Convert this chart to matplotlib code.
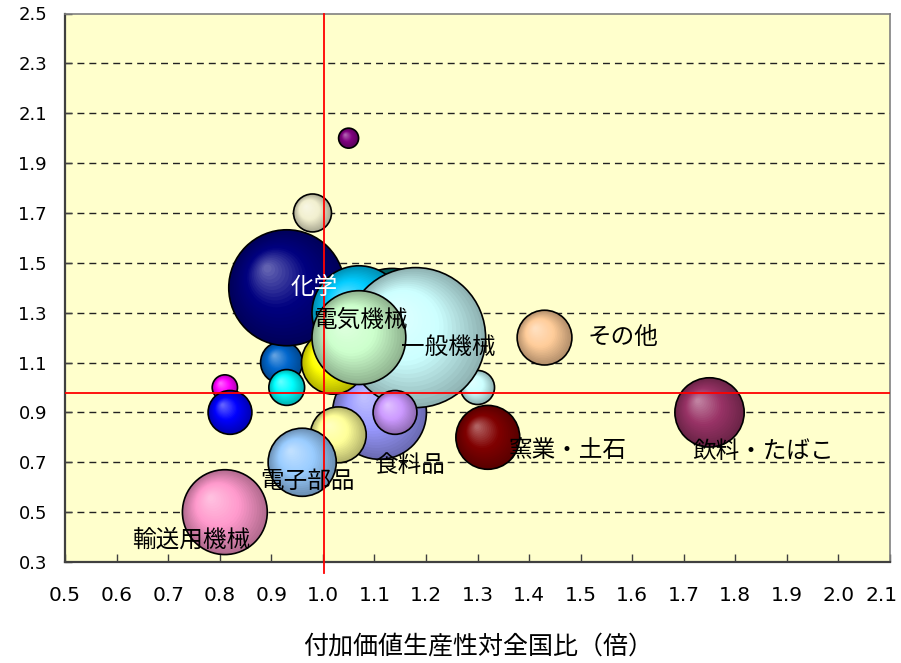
import numpy as np
import matplotlib
matplotlib.use('Agg')
import matplotlib.pyplot as plt
from matplotlib import transforms
from matplotlib import colors as mcolors

plt.rcParams['font.family'] = ['Noto Sans CJK JP', 'DejaVu Sans']

# bubble data (drawing order = order in the lists)
names = ['', '', '', '', '', '化学', '食料品', '', '', '', '電子部品', '', '窯業・土石',
         '', '', '一般機械', '', '電気機械', '輸送用機械', 'その他', '飲料・たばこ']
x_ratio = [0.81, 0.82, 1.05, 0.98, 0.92, 0.93, 1.11, 1.02, 0.93, 1.03, 0.96, 1.30, 1.32,
           1.134, 1.07, 1.18, 1.14, 1.07, 0.81, 1.43, 1.75]
y_ratio = [1.00, 0.90, 2.00, 1.70, 1.10, 1.40, 0.90, 1.10, 1.00, 0.81, 0.70, 1.00, 0.80,
           1.273, 1.30, 1.20, 0.90, 1.20, 0.50, 1.20, 0.90]
bubble_size = [1.6, 4.8, 1.0, 3.6, 4.4, 33.6, 22, 10, 3.2, 7.8, 11.6, 2.9, 10.2,
               26, 22, 49, 4.8, 22, 18, 7.5, 12]
bubble_colors = ['#FF00FF', '#0000FF', '#800080', '#F2F0D0', '#0066CC', '#000080', '#9999FF',
                 '#FFFF00', '#00FFFF', '#FFFF99', '#99CCFF', '#CCFFFF', '#800000', '#008080',
                 '#00CCFF', '#CCFFFF', '#CC99FF', '#CCFFCC', '#FF99CC', '#FFCC99', '#993366']

x_ref = 1.003   # 全国比 vertical guide
y_ref = 0.977

x_ticks = [0.5, 0.6, 0.7, 0.8, 0.9, 1.0, 1.1, 1.2, 1.3, 1.4, 1.5, 1.6, 1.7, 1.8, 1.9, 2.0, 2.1]
y_ticks = [0.3, 0.5, 0.7, 0.9, 1.1, 1.3, 1.5, 1.7, 1.9, 2.1, 2.3, 2.5]

# label offsets in pixels from the bubble centre
label_pos = {'化学': (27, 0), '電気機械': (2, 17), '一般機械': (33, -10), '食料品': (30, -53),
             '電子部品': (5, -19), '輸送用機械': (-34, -28), '窯業・土石': (80, -13),
             '飲料・たばこ': (54, -39), 'その他': (78, 0)}

DPI = 100
fig = plt.figure(figsize=(9.01, 6.63), dpi=DPI)
ax = fig.add_axes([65 / 901, 101 / 663, 825 / 901, 548.5 / 663])
ax.set_facecolor('#FFFFCC')

# dashed gridlines
for yv in y_ticks[1:-1]:
    ax.axhline(yv, color='#222222', lw=1.0, ls=(0, (5, 3.6)), zorder=1)

R_MAX = 70.0  # px radius of the biggest bubble
s_max = max(bubble_size)
N = 22
for i, (x, y, s, c) in enumerate(zip(x_ratio, y_ratio, bubble_size, bubble_colors)):
    r = R_MAX * np.sqrt(s / s_max)
    base = np.array(mcolors.to_rgb(c))
    z = 10 + i
    # fake 3D shading: stacked circles drifting to the upper left
    for k in range(N):
        t = k / (N - 1)
        if t < 0.5:
            col = base * (0.70 + 0.30 * t / 0.5)
        else:
            col = base + (1 - base) * 0.38 * (t - 0.5) / 0.5
        rk = r * (1 - 0.93 * t)
        ox, oy = -0.33 * r * t, 0.33 * r * t
        tr = transforms.offset_copy(ax.transData, fig=fig, x=ox, y=oy, units='dots')
        d_pt = 2 * rk * 72 / DPI
        ax.scatter([x], [y], s=d_pt ** 2, color=np.clip(col, 0, 1), edgecolors='none',
                   transform=tr, zorder=z)
    ax.scatter([x], [y], s=(2 * r * 72 / DPI) ** 2, facecolors='none', edgecolors='black',
               linewidths=1.2, zorder=z)

# red guides
ax.plot([x_ref, x_ref], [0.255, 2.5], color='red', lw=1.3, clip_on=False, zorder=60)
ax.plot([0.5, 2.1], [y_ref, y_ref], color='red', lw=1.3, zorder=60)

for name, x, y in zip(names, x_ratio, y_ratio):
    if not name:
        continue
    dx, dy = label_pos[name]
    ax.annotate(name, (x, y), xytext=(dx, dy), textcoords='offset pixels',
                ha='center', va='center', fontsize=17,
                color='white' if name == '化学' else 'black', zorder=70)

ax.set_xlim(0.5, 2.1)
ax.set_ylim(0.3, 2.5)
ax.set_xticks(x_ticks)
ax.set_xticklabels(['%.1f' % v for v in x_ticks], fontsize=14.5, family='DejaVu Sans')
ax.set_yticks(y_ticks)
ax.set_yticklabels(['%.1f' % v for v in y_ticks], fontsize=13, family='DejaVu Sans')
ax.tick_params(axis='x', direction='in', length=6, width=1, color='#404040', pad=17)
ax.tick_params(axis='y', direction='in', length=5, width=1, color='#404040', pad=13)

# keep the last x label inside the figure
last = ax.get_xticklabels()[-1]
last.set_transform(last.get_transform() +
                   transforms.ScaledTranslation(-6 / 72, 0, fig.dpi_scale_trans))

for side in ['left', 'bottom']:
    ax.spines[side].set_color('#404040')
    ax.spines[side].set_linewidth(1.6)
for side in ['top', 'right']:
    ax.spines[side].set_color('#808080')
    ax.spines[side].set_linewidth(1.2)

fig.text(478 / 901, 1 - 647 / 663, '付加価値生産性対全国比（倍）', ha='center', va='center',
         fontsize=18)

fig.savefig('out.png', dpi=DPI)
